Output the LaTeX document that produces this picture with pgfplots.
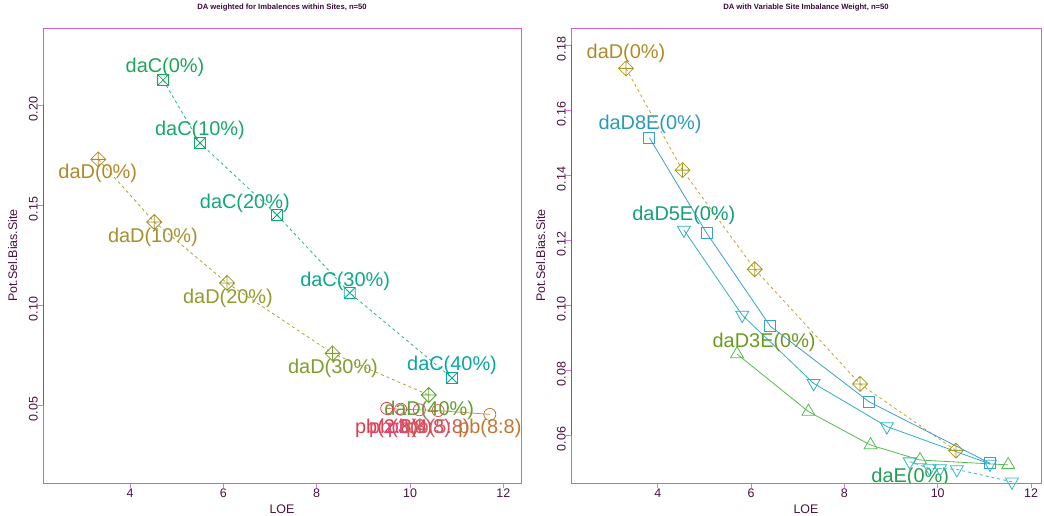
\documentclass[border=0pt]{standalone}
\usepackage{pgfplots}
\pgfplotsset{compat=1.18}
\usepackage{fontspec}
\setmainfont{Liberation Sans}

\definecolor{boxcol}{HTML}{D060D0}
\definecolor{axcol}{HTML}{85508A}
\definecolor{tickcol}{HTML}{DD77DD}
\definecolor{labcol}{HTML}{4A1040}
\definecolor{titcol}{HTML}{3A0A3A}
% left panel
\definecolor{cC0}{HTML}{1FA55A}
\definecolor{cC1}{HTML}{17A86C}
\definecolor{cC2}{HTML}{12A87E}
\definecolor{cC3}{HTML}{0EA890}
\definecolor{cC4}{HTML}{0AA6A0}
\definecolor{cCline}{HTML}{25B58A}
\definecolor{cD0}{HTML}{B08A2A}
\definecolor{cD1}{HTML}{A39130}
\definecolor{cD2}{HTML}{939A2E}
\definecolor{cD3}{HTML}{7E9E30}
\definecolor{cD4}{HTML}{5FA030}
\definecolor{cDline}{HTML}{B0A030}
\definecolor{pb2}{HTML}{E03C50}
\definecolor{pb3}{HTML}{E04565}
\definecolor{pb4}{HTML}{D84A70}
\definecolor{pb5}{HTML}{D06050}
\definecolor{pb8}{HTML}{C07830}
\definecolor{pbline}{HTML}{D08040}
% right panel
\definecolor{rD}{HTML}{A89A20}
\definecolor{rDline}{HTML}{C8A030}
\definecolor{r8E}{HTML}{3A9FD0}
\definecolor{r8Elab}{HTML}{2A9AB8}
\definecolor{r5E}{HTML}{30B0C0}
\definecolor{r5Elab}{HTML}{15A07A}
\definecolor{r3E}{HTML}{55BB50}
\definecolor{r3Elab}{HTML}{6A9A20}
\definecolor{rE}{HTML}{30B8C8}
\definecolor{rElab}{HTML}{20A050}

\pgfdeclareplotmark{boxx}{%
  \pgfpathrectangle{\pgfqpoint{-\pgfplotmarksize}{-\pgfplotmarksize}}{\pgfqpoint{2\pgfplotmarksize}{2\pgfplotmarksize}}%
  \pgfpathmoveto{\pgfqpoint{-\pgfplotmarksize}{-\pgfplotmarksize}}%
  \pgfpathlineto{\pgfqpoint{\pgfplotmarksize}{\pgfplotmarksize}}%
  \pgfpathmoveto{\pgfqpoint{-\pgfplotmarksize}{\pgfplotmarksize}}%
  \pgfpathlineto{\pgfqpoint{\pgfplotmarksize}{-\pgfplotmarksize}}%
  \pgfusepathqstroke}
\pgfdeclareplotmark{diamondplus}{%
  \pgfpathmoveto{\pgfqpoint{0pt}{\pgfplotmarksize}}%
  \pgfpathlineto{\pgfqpoint{\pgfplotmarksize}{0pt}}%
  \pgfpathlineto{\pgfqpoint{0pt}{-\pgfplotmarksize}}%
  \pgfpathlineto{\pgfqpoint{-\pgfplotmarksize}{0pt}}%
  \pgfpathclose
  \pgfpathmoveto{\pgfqpoint{0pt}{\pgfplotmarksize}}%
  \pgfpathlineto{\pgfqpoint{0pt}{-\pgfplotmarksize}}%
  \pgfpathmoveto{\pgfqpoint{-\pgfplotmarksize}{0pt}}%
  \pgfpathlineto{\pgfqpoint{\pgfplotmarksize}{0pt}}%
  \pgfusepathqstroke}

\newcommand\lab{\fontsize{20}{24}\selectfont}
\newcommand\tck{\fontsize{12.5}{14}\selectfont}

\pgfplotsset{
  rbase/.style={
    scale only axis, height=455bp, anchor=south west,
    axis line style={draw=boxcol, line width=0.8bp},
    tick style={draw=tickcol, line width=0.8bp},
    tick align=outside, major tick length=5bp,
    xtick pos=bottom, ytick pos=left,
    /pgf/number format/assume math mode=true,
    ticklabel style={font=\tck, text=labcol},
    yticklabel style={rotate=90, anchor=south, inner sep=0pt, xshift=-4bp},
    xticklabel style={inner sep=0pt, yshift=-1bp},
    y tick label style={/pgf/number format/.cd, fixed, fixed zerofill, precision=2},
    xlabel=LOE, ylabel=Pot.Sel.Bias.Site,
    xlabel style={at={(axis description cs:0.5,0)}, anchor=base, yshift=-30.5bp, inner sep=0pt, font=\tck, text=labcol},
    ylabel style={font=\tck, text=labcol},
    title style={at={(axis description cs:0.5,1)}, anchor=base, yshift=13bp, inner sep=0pt, font=\bfseries\fontsize{7.7}{9}\selectfont, text=titcol},
    every axis plot/.append style={line width=0.8bp},
  }
}

\begin{document}
\begin{tikzpicture}[x=1bp,y=1bp]
\useasboundingbox (0,0) rectangle (1044,516);

% ---------------- left panel ----------------
\begin{axis}[rbase, at={(43bp,33bp)}, width=478bp,
  xmin=2.136, xmax=12.378, ymin=0.011, ymax=0.2385,
  xtick={4,6,8,10,12}, ytick={0.05,0.10,0.15,0.20},
  ylabel style={at={(axis description cs:-0.054,0.5)}, anchor=base, inner sep=0pt},
  title={DA weighted for Imbalences within Sites, n=50}]
\draw[axcol, line width=0.8bp] (axis cs:4,0.011) -- (axis cs:12,0.011);
\draw[axcol, line width=0.8bp] (axis cs:2.136,0.05) -- (axis cs:2.136,0.20);
% daC
\addplot[dashed, color=cCline] coordinates {(4.71,0.2125) (5.50,0.181) (7.15,0.145) (8.71,0.106) (10.90,0.0635)};
\addplot[only marks, mark=boxx, mark size=5.5bp, draw=cC0] coordinates {(4.71,0.2125)};
\addplot[only marks, mark=boxx, mark size=5.5bp, draw=cC1] coordinates {(5.50,0.181)};
\addplot[only marks, mark=boxx, mark size=5.5bp, draw=cC2] coordinates {(7.15,0.145)};
\addplot[only marks, mark=boxx, mark size=5.5bp, draw=cC3] coordinates {(8.71,0.106)};
\addplot[only marks, mark=boxx, mark size=5.5bp, draw=cC4] coordinates {(10.90,0.0635)};
% daD
\addplot[dashed, color=cDline] coordinates {(3.32,0.1728) (4.52,0.1415) (6.08,0.1110) (8.34,0.0758) (10.40,0.0550)};
\addplot[only marks, mark=diamondplus, mark size=7.5bp, draw=cD0] coordinates {(3.32,0.1728)};
\addplot[only marks, mark=diamondplus, mark size=7.5bp, draw=cD1] coordinates {(4.52,0.1415)};
\addplot[only marks, mark=diamondplus, mark size=7.5bp, draw=cD2] coordinates {(6.08,0.1110)};
\addplot[only marks, mark=diamondplus, mark size=7.5bp, draw=cD3] coordinates {(8.34,0.0758)};
\addplot[only marks, mark=diamondplus, mark size=7.5bp, draw=cD4] coordinates {(10.40,0.0550)};
% pb
\addplot[color=pbline, line width=0.7bp] coordinates {(9.50,0.0483) (9.80,0.0479) (10.20,0.0476) (10.60,0.0472) (11.71,0.0453)};
\addplot[only marks, mark=o, mark size=6bp, draw=pb2] coordinates {(9.50,0.0483)};
\addplot[only marks, mark=o, mark size=6bp, draw=pb3] coordinates {(9.80,0.0479)};
\addplot[only marks, mark=o, mark size=6bp, draw=pb4] coordinates {(10.20,0.0476)};
\addplot[only marks, mark=o, mark size=6bp, draw=pb5] coordinates {(10.60,0.0472)};
\addplot[only marks, mark=o, mark size=6bp, draw=pb8] coordinates {(11.71,0.0453)};
% labels
\node[text=cC0, font=\lab] at (axis cs:4.75,0.219) {daC(0\%)};
\node[text=cC1, font=\lab] at (axis cs:5.50,0.1875) {daC(10\%)};
\node[text=cC2, font=\lab] at (axis cs:6.46,0.151) {daC(20\%)};
\node[text=cC3, font=\lab] at (axis cs:8.61,0.112) {daC(30\%)};
\node[text=cC4, font=\lab] at (axis cs:10.90,0.070) {daC(40\%)};
\node[text=cD0, font=\lab] at (axis cs:3.31,0.166) {daD(0\%)};
\node[text=cD1, font=\lab] at (axis cs:4.49,0.134) {daD(10\%)};
\node[text=cD2, font=\lab] at (axis cs:6.10,0.1035) {daD(20\%)};
\node[text=cD3, font=\lab] at (axis cs:8.35,0.0685) {daD(30\%)};
\node[text=cD4, font=\lab] at (axis cs:10.41,0.0475) {daD(40\%)};
\node[text=pb2, font=\lab] at (axis cs:9.50,0.0385) {pb(2:8)};
\node[text=pb3, font=\lab] at (axis cs:9.80,0.0385) {pb(3:8)};
\node[text=pb4, font=\lab] at (axis cs:10.20,0.0385) {pb(4:8)};
\node[text=pb5, font=\lab] at (axis cs:10.60,0.0385) {pb(5:8)};
\node[text=pb8, font=\lab] at (axis cs:11.71,0.0385) {pb(8:8)};
\end{axis}

% ---------------- right panel ----------------
\begin{axis}[rbase, at={(571bp,33bp)}, width=470bp,
  xmin=2.142, xmax=12.213, ymin=0.04523, ymax=0.18523,
  xtick={4,6,8,10,12}, ytick={0.06,0.08,0.10,0.12,0.14,0.16,0.18},
  ylabel style={at={(axis description cs:-0.055,0.5)}, anchor=base, inner sep=0pt},
  title={DA with Variable Site Imbalance Weight, n=50}]
\draw[axcol, line width=0.8bp] (axis cs:4,0.04523) -- (axis cs:12,0.04523);
\draw[axcol, line width=0.8bp] (axis cs:2.142,0.06) -- (axis cs:2.142,0.18);
% daD
\addplot[dashed, color=rDline, mark=diamondplus, mark size=7.5bp, mark options={solid, draw=rD}] coordinates {(3.32,0.1728) (4.53,0.1415) (6.08,0.1110) (8.335,0.0757) (10.39,0.0552)};
% daD8E
\addplot[color=r8E, mark=square, mark size=5.5bp] coordinates {(3.82,0.1515) (5.05,0.1221) (6.41,0.0935) (8.53,0.0702) (11.12,0.0513)};
% daD5E
\addplot[color=r5E, mark=triangle, mark size=7.5bp, mark options={rotate=180}] coordinates {(4.56,0.1231) (5.81,0.0969) (7.34,0.0759) (8.91,0.0626) (11.12,0.0511)};
% daD3E
\addplot[color=r3E, mark=triangle, mark size=7.5bp] coordinates {(5.70,0.0849) (7.23,0.0672) (8.56,0.0569) (9.62,0.0523) (11.51,0.0508)};
% daE
\addplot[dashed, color=rE, mark=triangle, mark size=7.5bp, mark options={solid, rotate=180}] coordinates {(9.40,0.0518) (9.83,0.0497) (10.05,0.0497) (10.41,0.0494) (11.59,0.0456)};
% labels
\node[text=cD0, font=\lab] at (axis cs:3.32,0.1775) {daD(0\%)};
\node[text=r8Elab, font=\lab] at (axis cs:3.835,0.1557) {daD8E(0\%)};
\node[text=r5Elab, font=\lab] at (axis cs:4.56,0.1277) {daD5E(0\%)};
\node[text=r3Elab, font=\lab] at (axis cs:6.28,0.0886) {daD3E(0\%)};
\node[text=rElab, font=\lab] at (axis cs:9.41,0.0471) {daE(0\%)};
\end{axis}
\end{tikzpicture}
\end{document}
